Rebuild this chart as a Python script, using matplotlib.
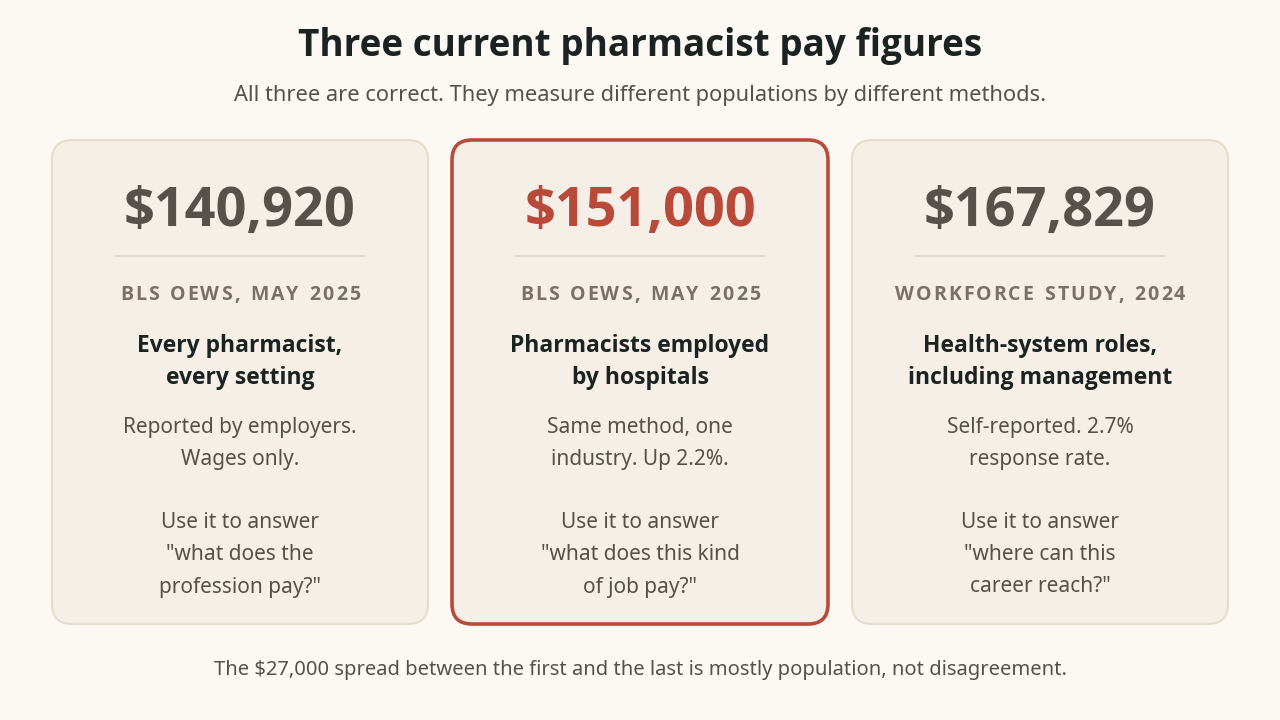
import matplotlib
matplotlib.use("Agg")
import matplotlib.pyplot as plt
from matplotlib.patches import FancyBboxPatch

plt.rcParams['font.family'] = ['Noto Sans', 'DejaVu Sans']
BOLD = ['Open Sans', 'DejaVu Sans']

title = "Three current pharmacist pay figures"
subtitle = "All three are correct. They measure different populations by different methods."
footer = "The $27,000 spread between the first and the last is mostly population, not disagreement."

values = ["$140,920", "$151,000", "$167,829"]
sources = ["BLS OEWS, MAY 2025", "BLS OEWS, MAY 2025", "WORKFORCE STUDY, 2024"]
headings = [["Every pharmacist,", "every setting"],
            ["Pharmacists employed", "by hospitals"],
            ["Health-system roles,", "including management"]]
descriptions = [["Reported by employers.", "Wages only."],
                ["Same method, one", "industry. Up 2.2%."],
                ["Self-reported. 2.7%", "response rate."]]
uses = [["Use it to answer", "\"what does the", "profession pay?\""],
        ["Use it to answer", "\"what does this kind", "of job pay?\""],
        ["Use it to answer", "\"where can this", "career reach?\""]]
highlight = [False, True, False]

BG = "#fcf9f5"
CARD = "#f5efe8"
EDGE = "#e6ddd0"
RED = "#b94a3a"
NUM = "#57514b"
SRC = "#7a7067"
HEAD = "#1b2322"
BODY = "#56504a"

fig = plt.figure(figsize=(12.8, 7.2), dpi=100, facecolor=BG)
ax = fig.add_axes([0, 0, 1, 1])
ax.set_xlim(0, 1280)
ax.set_ylim(720, 0)
ax.axis('off')
ax.set_facecolor(BG)
renderer = fig.canvas.get_renderer()


def _w(s, **kw):
    t = ax.text(0, 0, s, **kw)
    w = t.get_window_extent(renderer).width
    t.remove()
    return w


def spaced_text(cx, y, s, spacing, **kw):
    space_w = (_w("A A", **kw) - _w("AA", **kw)) * 1.35
    widths = [space_w if ch == ' ' else _w(ch, **kw) for ch in s]
    total = sum(widths) + spacing * (len(s) - 1)
    x = cx - total / 2
    for ch, w in zip(s, widths):
        if ch != ' ':
            ax.text(x, y, ch, ha='left', va='center', **kw)
        x += w + spacing


ax.text(640, 46, title, ha='center', va='center', fontsize=26.6, fontweight='bold',
        family=BOLD, color=HEAD)
ax.text(640, 95, subtitle, ha='center', va='center', fontsize=15.7, color=BODY)

card_x = [52, 452, 852]
card_w = 376
top, bottom = 140, 624
for i in range(3):
    x0 = card_x[i]
    cx = x0 + card_w / 2
    hl = highlight[i]
    box = FancyBboxPatch((x0, top), card_w, bottom - top,
                         boxstyle="round,pad=0,rounding_size=20",
                         facecolor=CARD, edgecolor=RED if hl else EDGE,
                         linewidth=2.6 if hl else 1.6, zorder=1)
    ax.add_patch(box)
    ax.text(cx, 212, values[i], ha='center', va='center', fontsize=39, fontweight='bold',
            family=BOLD, color=RED if hl else NUM, zorder=2)
    ax.plot([cx - 124, cx + 124], [256, 256], color="#e4dacb", lw=1.6, zorder=2)
    spaced_text(cx, 295, sources[i], 2.0, fontsize=14, fontweight='bold', family=BOLD,
                color=SRC, zorder=2)
    for j, line in enumerate(headings[i]):
        ax.text(cx, 346 + 32 * j, line, ha='center', va='center', fontsize=16.5,
                fontweight='bold', family=BOLD, color=HEAD, zorder=2)
    for j, line in enumerate(descriptions[i]):
        ax.text(cx, 427 + 32 * j, line, ha='center', va='center', fontsize=15, color=BODY, zorder=2)
    for j, line in enumerate(uses[i]):
        ax.text(cx, 523 + 32 * j, line, ha='center', va='center', fontsize=15, color=BODY, zorder=2)

ax.text(640, 670, footer, ha='center', va='center', fontsize=14.5, color=BODY)

fig.savefig("out.png", dpi=100, facecolor=BG)
